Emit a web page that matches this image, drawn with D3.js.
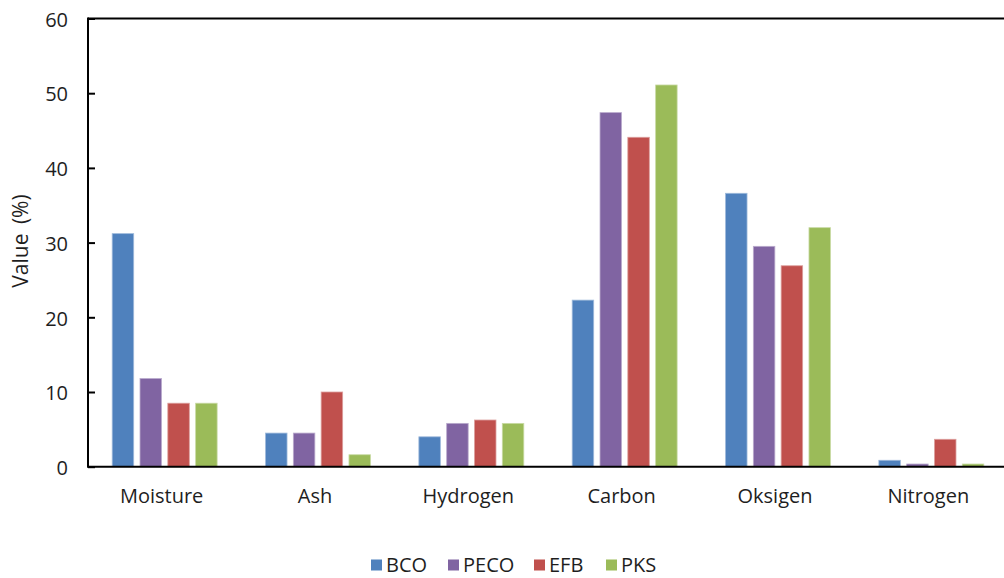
<!DOCTYPE html>
<html>
<head>
<meta charset="utf-8">
<script src="https://cdn.jsdelivr.net/npm/d3@7"></script>
<style>
  html, body { margin: 0; padding: 0; background: #fff; }
  svg { display: block; }
  text { font-family: "Open Sans", "Noto Sans", sans-serif; fill: #1e1e1e; }
</style>
</head>
<body>
<svg id="chart" width="1004" height="578"></svg>
<script>
// Proximate / ultimate analysis of the four biomass fuels (%)
const categories = ["Moisture", "Ash", "Hydrogen", "Carbon", "Oksigen", "Nitrogen"];
const seriesNames = ["BCO", "PECO", "EFB", "PKS"];
const BCO  = [31.2, 4.5, 4.0, 22.3, 36.6, 0.86];
const PECO = [11.8, 4.5, 5.8, 47.4, 29.5, 0.36];
const EFB  = [8.5, 10.0, 6.25, 44.1, 26.9, 3.67];
const PKS  = [8.5, 1.6, 5.8, 51.1, 32.0, 0.36];
const seriesColors = ["#4F81BD", "#8064A2", "#C0504D", "#9BBB59"];
const yTicks = [0, 10, 20, 30, 40, 50, 60];

const seriesValues = [BCO, PECO, EFB, PKS];

const svg = d3.select("#chart");
const margin = { left: 88, top: 18.5, right: 1008, bottom: 466.7 };

const x0 = d3.scaleBand()
  .domain(categories)
  .range([margin.left, margin.right])
  .paddingInner(0).paddingOuter(0);

const groupPad = 24.2;
const x1 = d3.scaleBand()
  .domain(seriesNames)
  .range([groupPad, x0.bandwidth() - groupPad])
  .paddingInner(0.227).paddingOuter(0);

const y = d3.scaleLinear().domain([0, 60]).range([margin.bottom, margin.top]);

// Bars
const groups = svg.append("g").selectAll("g")
  .data(categories)
  .join("g")
  .attr("transform", d => `translate(${x0(d)},0)`);

groups.selectAll("rect")
  .data((c, ci) => seriesNames.map((s, si) => ({ s, si, v: seriesValues[si][ci] })))
  .join("rect")
  .attr("x", d => x1(d.s))
  .attr("width", x1.bandwidth())
  .attr("y", d => y(d.v))
  .attr("height", d => y(0) - y(d.v))
  .attr("fill", d => seriesColors[d.si])
  .attr("stroke", d => d3.interpolateRgb(seriesColors[d.si], "#fff")(0.45))
  .attr("stroke-width", 0.8);

// Plot frame: top border line
svg.append("line")
  .attr("x1", margin.left).attr("x2", margin.right)
  .attr("y1", margin.top).attr("y2", margin.top)
  .attr("stroke", "#000").attr("stroke-width", 2);

// Y axis with inward ticks
const yAxis = svg.append("g")
  .attr("transform", `translate(${margin.left},0)`)
  .call(d3.axisRight(y).tickValues(yTicks).tickSize(7).tickFormat(""));
yAxis.select(".domain").remove();
yAxis.selectAll(".tick line").attr("stroke", "#000").attr("stroke-width", 2);
svg.append("line")
  .attr("x1", margin.left).attr("x2", margin.left)
  .attr("y1", margin.top - 1).attr("y2", margin.bottom + 1)
  .attr("stroke", "#000").attr("stroke-width", 2);

svg.append("g").selectAll("text")
  .data(yTicks)
  .join("text")
  .attr("x", 68)
  .attr("y", d => y(d) + 1)
  .attr("dy", "0.36em")
  .attr("text-anchor", "end")
  .attr("font-size", 20)
  .text(d => d);

// X axis baseline
svg.append("line")
  .attr("x1", margin.left).attr("x2", margin.right)
  .attr("y1", y(0)).attr("y2", y(0))
  .attr("stroke", "#000").attr("stroke-width", 2);

svg.append("g").selectAll("text")
  .data(categories)
  .join("text")
  .attr("x", d => x0(d) + x0.bandwidth() / 2 - 3)
  .attr("y", 503)
  .attr("text-anchor", "middle")
  .attr("font-size", 20)
  .text(d => d);

// Y axis title
svg.append("text")
  .attr("transform", "translate(28,241) rotate(-90)")
  .attr("text-anchor", "middle")
  .attr("font-size", 21)
  .attr("word-spacing", 4)
  .text("Value (%)");

// Legend
const legendX = [371, 448, 534, 606];
const legend = svg.append("g").selectAll("g")
  .data(seriesNames)
  .join("g")
  .attr("transform", (d, i) => `translate(${legendX[i]},559.5)`);
legend.append("rect")
  .attr("width", 11).attr("height", 11)
  .attr("fill", (d, i) => seriesColors[i]);
legend.append("text")
  .attr("x", 15).attr("y", 5.5).attr("dy", "0.36em")
  .attr("font-size", 20)
  .text(d => d);
</script>
</body>
</html>
